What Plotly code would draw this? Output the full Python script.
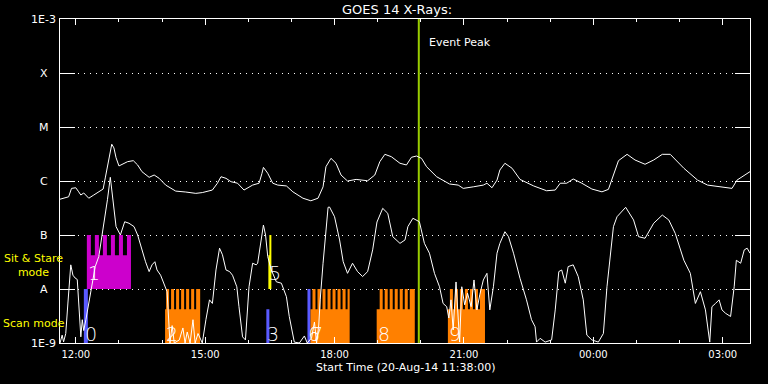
import math
import plotly.graph_objects as go

# ---------------- data ----------------
DAY1, DAY2 = "2014-08-20", "2014-08-21"

def ts(hms):
    h = int(hms.split(":")[0])
    return (DAY2 if h < 11 else DAY1) + " " + hms

# GOES 14 long channel (1-8 A), W/m^2
long_time = ["11:38","11:43","11:50","11:54","12:00","12:04","12:07","12:11","12:18","12:25",
             "12:32","12:38","12:41","12:45","12:50","12:53","12:56","13:00","13:06","13:12",
             "13:20","13:26","13:32","13:42","13:49","13:56","14:05","14:19","14:33","14:47",
             "14:56","15:10","15:17","15:22","15:29","15:36","15:45","15:54","16:06","16:15",
             "16:19","16:21","16:27","16:34","16:41","16:53","17:02","17:16","17:27","17:37",
             "17:44","17:48","17:55","18:02","18:09","18:18","18:30","18:46","18:56","19:03",
             "19:10","19:19","19:31","19:40","19:47","19:54","20:01","20:08","20:22","20:40",
             "20:52","20:59","21:13","21:27","21:32","21:39","21:46","21:50","21:57","22:07",
             "22:18","22:37","22:55","23:07","23:14","23:23","23:32","23:44","23:58","00:12",
             "00:21","00:28","00:35","00:47","00:58","01:12","01:24","01:36","01:47","02:06",
             "02:25","02:39","02:57","03:13","03:20","03:30","03:38"]
long_flux = [4.6e-7,4.8e-7,5.1e-7,7.3e-7,7.5e-7,6.3e-7,5.5e-7,6.0e-7,4.8e-7,5.5e-7,
             6.3e-7,7.1e-7,1.14e-6,2.15e-6,4.8e-6,4.1e-6,2.7e-6,1.9e-6,2.07e-6,2.28e-6,
             2.38e-6,1.98e-6,1.49e-6,1.17e-6,1.29e-6,1.12e-6,8.4e-7,6.5e-7,6.25e-7,5.9e-7,
             6.1e-7,6.8e-7,9.1e-7,1.2e-6,1.12e-6,9.7e-7,9.1e-7,6.8e-7,8.4e-7,9.1e-7,
             1.39e-6,1.79e-6,1.39e-6,9.1e-7,8.4e-7,8.1e-7,6.3e-7,4.8e-7,4.3e-7,4.8e-7,
             7.8e-7,1.84e-6,2.63e-6,2.13e-6,1.29e-6,1.0e-6,1.07e-6,1.01e-6,1.29e-6,2.28e-6,
             3.12e-6,2.82e-6,2.13e-6,1.98e-6,2.75e-6,2.9e-6,2.63e-6,1.84e-6,1.2e-6,8.8e-7,
             8.4e-7,7.3e-7,7.8e-7,8.4e-7,9.1e-7,7.5e-7,1.04e-6,1.6e-6,2.13e-6,1.72e-6,
             1.07e-6,8.1e-7,6.6e-7,6.8e-7,9.1e-7,9.1e-7,1.09e-6,9.1e-7,7.1e-7,6.3e-7,
             7.0e-7,1.29e-6,2.38e-6,3.12e-6,2.45e-6,2.04e-6,2.45e-6,3.12e-6,3.12e-6,1.72e-6,
             1.04e-6,8.4e-7,7.8e-7,7.3e-7,1.04e-6,1.29e-6,1.49e-6]

# GOES 14 short channel (0.5-4 A), W/m^2
short_time = ["11:38","11:41","11:43","11:46","11:49","11:53","11:56","11:59","12:02","12:04",
              "12:07","12:09","12:11","12:14","12:17","12:21","12:24","12:27","12:32","12:37",
              "12:44","12:48","12:52","12:56","13:02","13:08","13:14","13:21","13:26","13:28",
              "13:32","13:37","13:42","13:46","13:50","13:53","13:58","14:03","14:07","14:11",
              "14:14","14:17","14:24","14:29","14:32","14:35","14:39","14:43","14:46","14:50",
              "14:56","15:01","15:06","15:10","15:15","15:20","15:24","15:29","15:34","15:38",
              "15:44","15:47","15:52","15:56","15:59","16:01","16:06","16:11","16:13","16:18",
              "16:21","16:24","16:27","16:32","16:39","16:46","16:53","16:57","17:02","17:04",
              "17:11","17:18","17:22","17:28","17:32","17:35","17:38","17:40","17:44","17:47",
              "17:51","17:53","18:00","18:07","18:12","18:18","18:25","18:32","18:39","18:46",
              "18:53","18:59","19:07","19:14","19:21","19:31","19:38","19:42","19:49","19:58",
              "20:05","20:12","20:19","20:26","20:31","20:36","20:39","20:42","20:45","20:49",
              "20:52","20:54","20:57","21:01","21:05","21:10","21:14","21:18","21:22","21:27",
              "21:32","21:36","21:41","21:46","21:50","21:57","22:02","22:09","22:18","22:27",
              "22:34","22:39","22:41","22:46","22:53","23:02","23:07","23:12","23:16","23:21",
              "23:25","23:32","23:39","23:46","23:51","23:58","00:07","00:14","00:19","00:24",
              "00:28","00:33","00:45","00:56","01:03","01:12","01:24","01:36","01:45","01:54",
              "02:06","02:15","02:22","02:29","02:36","02:42","02:45","02:50","02:55","02:59",
              "03:04","03:11","03:16","03:19","03:25","03:30","03:34","03:38"]
short_flux = [1.0e-9,1.4e-9,1.05e-9,1.5e-9,5.5e-9,2.8e-8,1.8e-8,1.6e-8,1.5e-8,4.7e-9,
              1.3e-9,2.7e-9,1.7e-9,2.7e-9,4.7e-9,8.3e-9,1.5e-8,2.6e-8,4.0e-8,1.07e-7,
              4.5e-7,1.17e-6,4.5e-7,1.43e-7,1.0e-7,1.76e-7,1.65e-7,1.43e-7,1.0e-7,8.1e-8,
              5.3e-8,3.2e-8,2.1e-8,2.8e-8,3.2e-8,2.25e-8,1.8e-8,1.2e-8,8.9e-9,1.0e-9,
              2.1e-9,1.0e-9,1.14e-9,1.9e-9,1.0e-9,1.6e-9,1.0e-9,2.7e-9,1.0e-9,1.5e-9,
              1.0e-9,2.7e-9,6.3e-9,5.4e-9,2.25e-8,5.7e-8,4.3e-8,2.25e-8,2.1e-8,1.8e-8,
              1.1e-8,4.7e-9,1.3e-9,1.14e-9,4.1e-9,1.1e-8,3.0e-8,2.8e-8,3.0e-8,7.5e-8,
              1.53e-7,1.0e-7,4.0e-8,2.25e-8,1.36e-8,1.28e-8,7.2e-9,3.1e-9,1.3e-9,1.04e-9,
              1.0e-9,1.35e-9,1.0e-9,1.24e-9,2.45e-9,1.0e-9,2.15e-9,6.3e-9,3.0e-8,1.0e-7,
              3.26e-7,3.3e-7,2.18e-7,8.1e-8,3.2e-8,1.95e-8,3.0e-8,2.1e-8,1.7e-8,2.1e-8,
              5.3e-8,1.74e-7,3.12e-7,2.52e-7,9.3e-8,7.0e-8,8.1e-8,1.43e-7,2.04e-7,1.76e-7,
              7.0e-8,4.6e-8,1.95e-8,1.1e-8,5.4e-9,4.7e-9,2.9e-9,6.3e-9,1.74e-9,1.35e-8,
              2.7e-9,1.04e-9,1.1e-8,5.1e-9,8.4e-9,4.7e-9,1.47e-8,4.1e-9,7.8e-9,1.47e-8,
              1.95e-8,4.1e-9,1.1e-8,4.6e-8,7.0e-8,1.15e-7,9.3e-8,4.6e-8,1.58e-8,6.3e-9,
              2.7e-9,2.0e-9,1.04e-9,1.22e-9,1.04e-9,1.14e-9,4.1e-9,2.1e-8,2.25e-8,1.28e-8,
              2.6e-8,2.8e-8,1.7e-8,6.3e-9,1.4e-9,1.14e-9,1.04e-9,1.5e-9,1.1e-8,4.0e-8,
              1.43e-7,2.18e-7,3.26e-7,1.9e-7,9.3e-8,8.7e-8,1.65e-7,2.34e-7,1.9e-7,1.07e-7,
              3.4e-8,1.95e-8,5.4e-9,8.9e-9,4.1e-9,1.04e-9,4.7e-9,5.4e-9,6.3e-9,4.1e-9,
              3.55e-9,3.1e-9,1.1e-8,3.4e-8,3.0e-8,5.3e-8,5.7e-8,4.6e-8]

event_peak = "19:57:12"

# observations (scan / sit & stare)
obs_label = ["0", "1", "2", "3", "5", "6", "7", "8", "9"]
obs_mode  = ["scan", "sit", "scan", "scan", "sit", "scan", "scan", "scan", "scan"]
obs_kind  = ["blue", "magenta", "orange", "blue", "yellow", "blue", "orange", "orange", "orange"]
obs_start = ["12:11:10", "12:15:21", "14:04:11", "16:25:06", "16:27:54",
             "17:22:19", "17:26:30", "18:58:36", "20:37:40"]
obs_end   = ["12:16:45", "13:16:44", "14:53:01", "16:29:18", "16:32:05",
             "17:26:30", "18:21:00", "19:51:36", "21:29:17"]
raster_start = [
    ["12:11:10"],
    ["12:15:21", "12:26:31", "12:37:40", "12:48:50", "13:00:00", "13:11:09"],
    ["14:05:35", "14:12:33", "14:19:32", "14:26:30", "14:33:29", "14:40:28", "14:47:26"],
    [],
    ["16:29:18"],
    ["17:22:19"],
    ["17:29:17", "17:36:15", "17:43:14", "17:50:12", "17:57:11", "18:04:10", "18:11:08", "18:18:07"],
    ["19:02:46", "19:09:45", "19:16:43", "19:23:42", "19:30:40", "19:37:39", "19:44:37"],
    ["20:40:28", "20:47:26", "20:54:25", "21:01:23", "21:08:22", "21:15:20", "21:22:19"],
]
raster_end = [
    ["12:16:45"],
    ["12:20:56", "12:32:06", "12:43:15", "12:54:25", "13:05:35", "13:16:44"],
    ["14:09:46", "14:16:44", "14:23:43", "14:30:41", "14:37:40", "14:44:39", "14:53:01"],
    [],
    ["16:32:05"],
    ["17:26:30"],
    ["17:33:28", "17:40:26", "17:47:25", "17:54:23", "18:01:22", "18:08:21", "18:15:19", "18:21:00"],
    ["19:06:57", "19:13:56", "19:20:54", "19:27:53", "19:34:51", "19:41:50", "19:51:36"],
    ["20:44:39", "20:51:37", "20:58:36", "21:05:34", "21:12:33", "21:19:31", "21:29:17"],
]

ytick_vals = [1e-9, 1e-8, 1e-7, 1e-6, 1e-5, 1e-4, 1e-3]
ytick_text = ["1E-9", "A", "B", "C", "M", "X", "1E-3"]
xtick_text = ["12:00", "15:00", "18:00", "21:00", "00:00", "03:00"]

# ---------------- styles ----------------
FONT = "DejaVu Sans"
COLORS = {"blue": "#5a5aff", "magenta": "#cc00cc", "orange": "#ff8000", "yellow": "#ffff00"}
LEVELS = {"scan": (1e-9, 4.2e-9, 1e-8), "sit": (1e-8, 4.2e-8, 1e-7)}
LABEL_Y = {"scan": 1.47e-9, "sit": 2.0e-8}

fig = go.Figure()

# observation blocks
for kind, col in COLORS.items():
    xs, ys = [], []
    for i in range(len(obs_label)):
        if obs_kind[i] != kind:
            continue
        lo, mid, hi = LEVELS[obs_mode[i]]
        s, e = ts(obs_start[i]), ts(obs_end[i])
        xs += [s, s, e, e, s, None]
        ys += [lo, mid, mid, lo, lo, None]
        for rs, re_ in zip(raster_start[i], raster_end[i]):
            a, b = ts(rs), ts(re_)
            xs += [a, a, b, b, a, None]
            ys += [lo, hi, hi, lo, lo, None]
    fig.add_trace(go.Scatter(x=xs, y=ys, mode="lines", fill="toself", fillcolor=col,
                             line=dict(width=0, color=col), hoverinfo="skip",
                             showlegend=False))

# event peak line
fig.add_trace(go.Scatter(x=[ts(event_peak), ts(event_peak)], y=[1e-9, 1e-3], mode="lines",
                         line=dict(color="#99cc00", width=2), showlegend=False))

# light curves
fig.add_trace(go.Scatter(x=[ts(t + ":00") for t in long_time], y=long_flux, mode="lines",
                         line=dict(color="white", width=1), showlegend=False))
fig.add_trace(go.Scatter(x=[ts(t + ":00") for t in short_time], y=short_flux, mode="lines",
                         line=dict(color="white", width=1), showlegend=False))

ann = []
# y tick labels (centred like the original)
for v, t in zip(ytick_vals, ytick_text):
    ann.append(dict(x=-0.0232, xref="paper", y=math.log10(v), yref="y", text=t,
                    showarrow=False, xanchor="center", yanchor="middle",
                    font=dict(family=FONT, size=11, color="white")))
# observation numbers
for i in range(len(obs_label)):
    ann.append(dict(x=ts(obs_start[i]), xref="x", y=math.log10(LABEL_Y[obs_mode[i]]), yref="y",
                    text=obs_label[i], showarrow=False, xanchor="left", yanchor="middle",
                    xshift=-1, font=dict(family=FONT, size=19, color="white", weight=200)))
# mode labels
ann.append(dict(x=-0.0377, xref="paper", y=-7.565, yref="y", text="Sit & Stare<br>mode",
                showarrow=False, xanchor="center", yanchor="middle",
                font=dict(family=FONT, size=11, color="#ffff00")))
ann.append(dict(x=-0.0377, xref="paper", y=-8.648, yref="y", text="Scan mode",
                showarrow=False, xanchor="center", yanchor="middle",
                font=dict(family=FONT, size=11, color="#ffff00")))
ann.append(dict(x=ts(event_peak), xref="x", y=0.926, yref="paper", text="Event Peak",
                showarrow=False, xanchor="left", yanchor="middle", xshift=8,
                font=dict(family=FONT, size=11, color="white")))
ann.append(dict(x=0.5, xref="paper", y=-0.077, yref="paper",
                text="Start Time (20-Aug-14 11:38:00)", showarrow=False,
                xanchor="center", yanchor="middle",
                font=dict(family=FONT, size=11, color="white")))

fig.update_layout(
    width=768, height=384,
    margin=dict(l=60, r=18, t=19, b=41),
    paper_bgcolor="black", plot_bgcolor="black",
    showlegend=False,
    title=dict(text="GOES 14 X-Rays:", x=0.517, xref="container", xanchor="center",
               y=0.975, yref="container", yanchor="middle",
               font=dict(family=FONT, size=13, color="white")),
    annotations=ann,
    xaxis=dict(type="date", range=[ts("11:38:00"), ts("03:38:00")],
               tickvals=[ts(t + ":00") for t in xtick_text], ticktext=xtick_text,
               ticks="inside", ticklen=6, tickcolor="white", tickwidth=1,
               showline=True, linecolor="white", linewidth=1, mirror="ticks",
               showgrid=False, zeroline=False,
               minor=dict(dtick=3600000, tick0="2014-08-20 00:00", ticks="inside",
                          ticklen=3, tickcolor="white", showgrid=False),
               tickfont=dict(family=FONT, size=10, color="white"), ticklabelstandoff=2),
    yaxis=dict(type="log", range=[-9, -3], tickvals=ytick_vals[1:-1], showticklabels=False,
               ticks="inside", ticklen=15, tickcolor="white", tickwidth=1,
               showline=True, linecolor="white", linewidth=1, mirror="ticks",
               showgrid=True, gridcolor="white", gridwidth=1, griddash="1px,5px",
               zeroline=False),
)

# remove the default 8px page margin so the figure sits at the window origin
fig.write_html("out.html", config={"displayModeBar": False},
               post_script="document.body.style.margin='0';document.body.style.background='black';")
